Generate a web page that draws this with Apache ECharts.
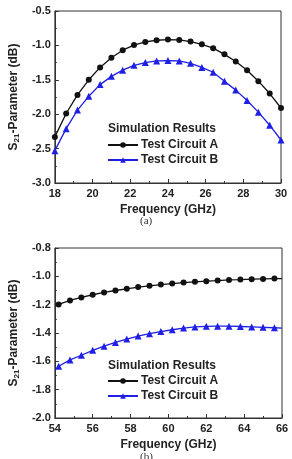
<!DOCTYPE html>
<html>
<head>
<meta charset="utf-8">
<script src="https://cdn.jsdelivr.net/npm/echarts@6/dist/echarts.min.js"></script>
<style>
  html, body { margin: 0; padding: 0; background: #fff; }
  #chart { width: 292px; height: 459px; }
</style>
</head>
<body>
<div id="chart"></div>
<script>
// (a) 18-30 GHz
var freqA = [18, 18.6, 19.2, 19.8, 20.4, 21, 21.6, 22.2, 22.8, 23.4, 24, 24.6, 25.2, 25.8, 26.4, 27, 27.6, 28.2, 28.8, 29.4, 30]
var circuitA1 = [-2.33, -1.99, -1.72, -1.50, -1.32, -1.18, -1.07, -0.995, -0.95, -0.925, -0.915, -0.92, -0.945, -0.985, -1.04, -1.13, -1.235, -1.36, -1.52, -1.70, -1.91]
var circuitB1 = [-2.53, -2.21, -1.94, -1.74, -1.57, -1.45, -1.36, -1.29, -1.25, -1.225, -1.22, -1.225, -1.26, -1.32, -1.39, -1.52, -1.65, -1.80, -1.97, -2.16, -2.375]

// (b) 54-66 GHz
var freqB = [54.2, 54.8, 55.4, 56, 56.6, 57.2, 57.8, 58.4, 59, 59.6, 60.2, 60.8, 61.4, 62, 62.6, 63.2, 63.8, 64.4, 65, 65.6]
var circuitA2 = [-1.198, -1.17, -1.149, -1.13, -1.114, -1.1, -1.088, -1.076, -1.067, -1.058, -1.051, -1.044, -1.039, -1.034, -1.03, -1.025, -1.023, -1.02, -1.018, -1.016]
var circuitB2 = [-1.635, -1.59, -1.557, -1.522, -1.493, -1.467, -1.443, -1.422, -1.405, -1.39, -1.377, -1.365, -1.357, -1.353, -1.352, -1.352, -1.354, -1.357, -1.36, -1.363]
// line runs on to the right frame without a marker
var endB = { x: 66, a: -1.016, b: -1.365 }

var seriesNames = ['Test Circuit A', 'Test Circuit B']
var colorA = '#111111'
var colorB = '#1f1fe6'
var font = 'Arial, "Liberation Sans", sans-serif'

function pairs(xs, ys) {
  var out = []
  for (var i = 0; i < xs.length; i++) {
    out.push([xs[i], ys[i]])
  }
  return out
}

function xAxisOpt(idx, min, max) {
  return {
    type: 'value', gridIndex: idx, min: min, max: max, interval: 2,
    name: 'Frequency (GHz)', nameLocation: 'middle', nameGap: 21,
    nameTextStyle: { fontFamily: font, fontWeight: 'bold', fontSize: 12, color: '#222' },
    axisLine: { lineStyle: { color: '#333', width: 1 } },
    axisTick: { inside: true, length: 4, lineStyle: { color: '#333' } },
    minorTick: { show: true, splitNumber: 2, length: 2, lineStyle: { color: '#333' } },
    axisLabel: { fontFamily: font, fontWeight: 'bold', fontSize: 11, color: '#222', margin: 5 },
    splitLine: { show: false }
  }
}

function yAxisOpt(idx, min, max, step, digits) {
  return {
    type: 'value', gridIndex: idx, min: min, max: max, interval: step,
    name: '{a|S}{s|21}{a|-Parameter (dB)}', nameLocation: 'middle', nameGap: 29,
    nameTextStyle: {
      rich: {
        a: { fontFamily: font, fontWeight: 'bold', fontSize: 12, color: '#222' },
        s: { fontFamily: font, fontWeight: 'bold', fontSize: 8, color: '#222', verticalAlign: 'bottom', padding: [6, 0, 0, 0] }
      }
    },
    axisLine: { show: true, lineStyle: { color: '#333', width: 1 } },
    axisTick: { inside: true, length: 4, lineStyle: { color: '#333' } },
    minorTick: { show: true, splitNumber: 2, length: 2, lineStyle: { color: '#333' } },
    axisLabel: {
      fontFamily: font, fontWeight: 'bold', fontSize: 11, color: '#222', margin: 4,
      formatter: function (v) { return v.toFixed(digits) }
    },
    splitLine: { show: false }
  }
}

function lineSeries(name, idx, data, color, symbol, size) {
  return {
    name: name, type: 'line', xAxisIndex: idx, yAxisIndex: idx,
    data: data, smooth: false, symbol: symbol, symbolSize: size, showSymbol: true,
    lineStyle: { color: color, width: 1.3 },
    itemStyle: { color: color },
    animation: false
  }
}

var dataA2 = pairs(freqB, circuitA2)
dataA2.push({ value: [endB.x, endB.a], symbol: 'none' })
var dataB2 = pairs(freqB, circuitB2)
dataB2.push({ value: [endB.x, endB.b], symbol: 'none' })

var legendStyle = {
  orient: 'vertical', padding: 0, itemWidth: 30, itemHeight: 7, itemGap: 3,
  textStyle: { fontFamily: font, fontWeight: 'bold', fontSize: 12, color: '#222', padding: [0, 0, 0, -2] },
  data: seriesNames
}

var chart = echarts.init(document.getElementById('chart'), null, { renderer: 'canvas' })
chart.setOption({
  backgroundColor: '#fff',
  animation: false,
  grid: [
    { left: 46, top: 11, width: 235, height: 172, show: true, borderColor: '#333', borderWidth: 1, backgroundColor: 'transparent' },
    { left: 46, top: 248, width: 236, height: 170, show: true, borderColor: '#333', borderWidth: 1, backgroundColor: 'transparent' }
  ],
  xAxis: [xAxisOpt(0, 18, 30), xAxisOpt(1, 54, 66)],
  yAxis: [yAxisOpt(0, -3, -0.5, 0.5, 1), yAxisOpt(1, -2, -0.8, 0.2, 1)],
  legend: [
    Object.assign({ left: 107, top: 139 }, legendStyle),
    Object.assign({ left: 107, top: 375 }, legendStyle)
  ],
  graphic: [
    { type: 'text', left: 108, top: 123, style: { text: 'Simulation Results', font: 'bold 12px ' + font, fill: '#222' } },
    { type: 'text', left: 108, top: 360, style: { text: 'Simulation Results', font: 'bold 12px ' + font, fill: '#222' } },
    { type: 'text', left: 140, top: 216, style: { text: '(a)', font: '11px "Liberation Serif", serif', fill: '#333' } },
    { type: 'text', left: 140, top: 452, style: { text: '(b)', font: '11px "Liberation Serif", serif', fill: '#333' } }
  ],
  series: [
    lineSeries(seriesNames[0], 0, pairs(freqA, circuitA1), colorA, 'circle', 6),
    lineSeries(seriesNames[1], 0, pairs(freqA, circuitB1), colorB, 'triangle', 7),
    lineSeries(seriesNames[0], 1, dataA2, colorA, 'circle', 6),
    lineSeries(seriesNames[1], 1, dataB2, colorB, 'triangle', 7)
  ]
})
</script>
</body>
</html>
